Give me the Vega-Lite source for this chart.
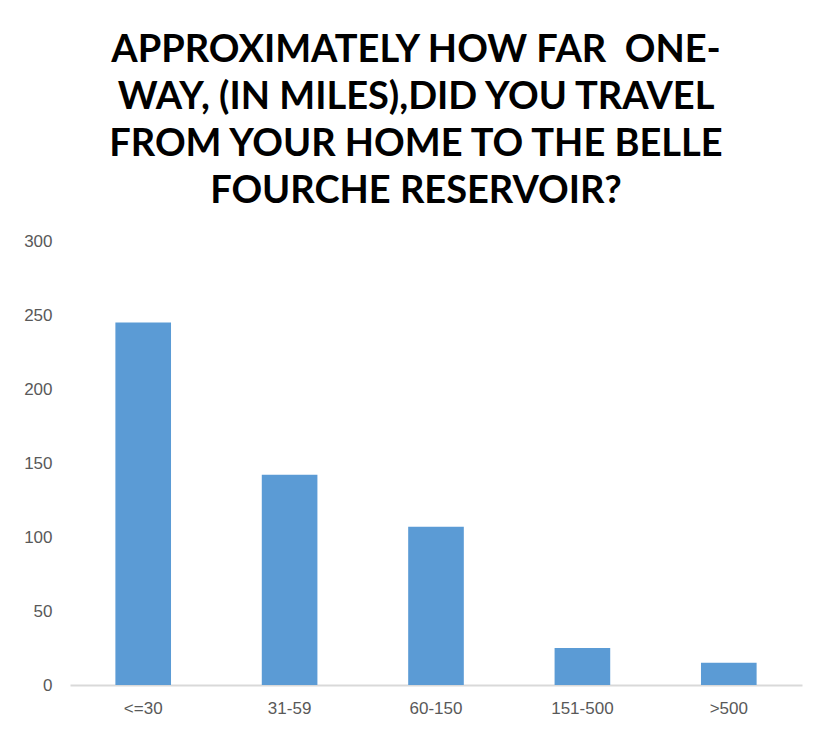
{
  "$schema": "https://vega.github.io/schema/vega-lite/v6.json",
  "autosize": {"type": "none"},
  "padding": {"left": 70, "top": 241, "right": 15, "bottom": 55},
  "width": 732,
  "height": 444,
  "background": "white",
  "title": {
    "text": ["APPROXIMATELY HOW FAR \u00a0ONE-", "WAY, (IN MILES),DID YOU TRAVEL", "FROM YOUR HOME TO THE BELLE", "FOURCHE RESERVOIR?"],
    "font": "Lato",
    "fontSize": 38,
    "fontWeight": "bold",
    "color": "#000000",
    "lineHeight": 47,
    "anchor": "middle",
    "dx": -20,
    "offset": 21
  },
  "data": {
    "values": [
      {"distance": "<=30", "count": 245},
      {"distance": "31-59", "count": 142},
      {"distance": "60-150", "count": 107},
      {"distance": "151-500", "count": 25},
      {"distance": ">500", "count": 15}
    ]
  },
  "mark": {"type": "bar", "color": "#5B9BD5"},
  "encoding": {
    "x": {
      "field": "distance",
      "type": "nominal",
      "sort": null,
      "title": null,
      "scale": {"paddingInner": 0.62, "paddingOuter": 0.31},
      "axis": {
        "labelAngle": 0,
        "labelFont": "Liberation Sans",
        "labelFontSize": 17,
        "labelColor": "#595959",
        "labelPadding": 15,
        "ticks": false,
        "domainColor": "#D9D9D9",
        "domainWidth": 2
      }
    },
    "y": {
      "field": "count",
      "type": "quantitative",
      "title": null,
      "scale": {"domain": [0, 300]},
      "axis": {
        "values": [0, 50, 100, 150, 200, 250, 300],
        "grid": false,
        "domain": false,
        "ticks": false,
        "labelFont": "Liberation Sans",
        "labelFontSize": 17,
        "labelColor": "#595959",
        "labelPadding": 18
      }
    }
  },
  "config": {"view": {"stroke": null}}
}
